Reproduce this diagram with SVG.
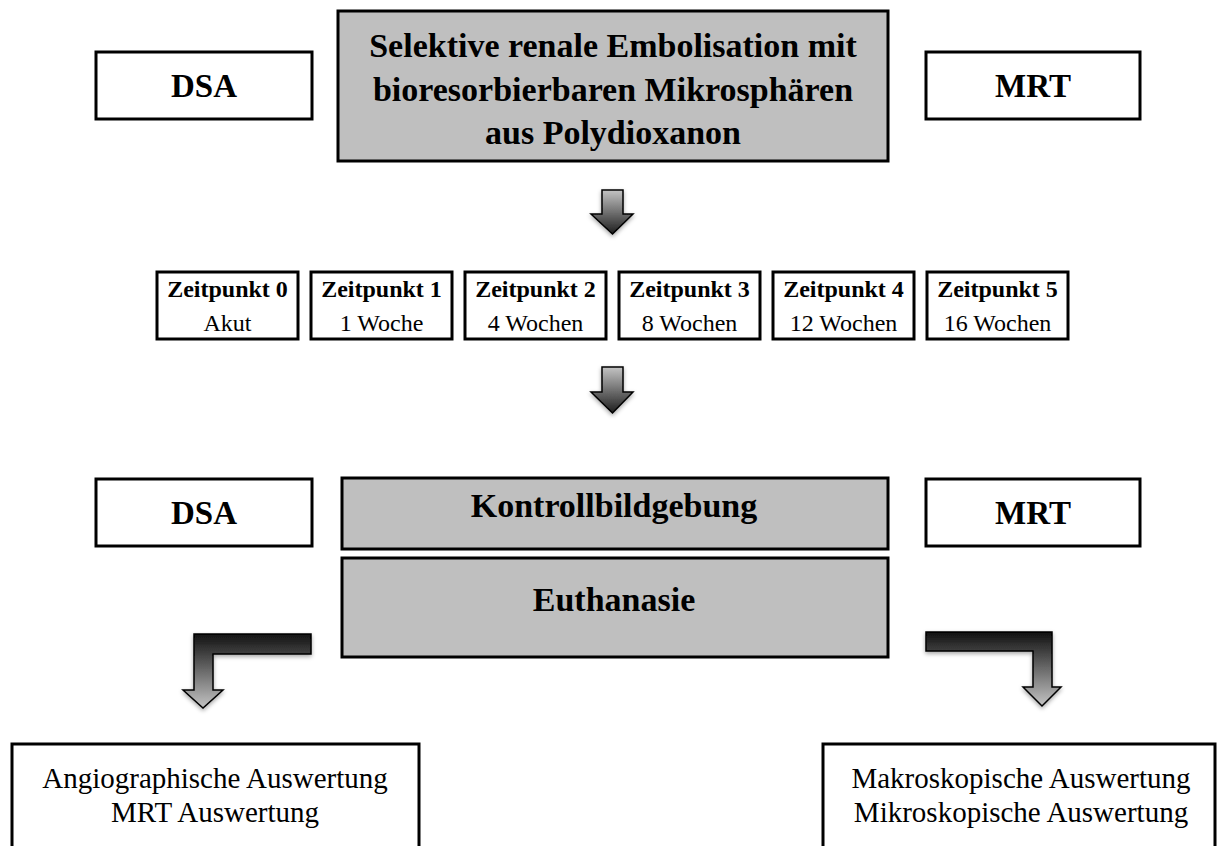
<svg xmlns="http://www.w3.org/2000/svg" width="1227" height="846" viewBox="0 0 1227 846">
<style>
.box{fill:#fff;stroke:#000;stroke-width:3}
.gbox{fill:#bfbfbf;stroke:#000;stroke-width:3}
.b{font-family:"Liberation Serif","Times New Roman",serif;font-weight:bold;fill:#000;text-anchor:middle}
.n{font-family:"Liberation Serif","Times New Roman",serif;fill:#000;text-anchor:middle}
.arr{stroke:#000;stroke-width:1.5;stroke-linejoin:miter}
</style>
<defs>
<linearGradient id="gDown" x1="0" y1="0" x2="0" y2="1">
<stop offset="0" stop-color="#c4c4c4"/><stop offset="1" stop-color="#1e1e1e"/>
</linearGradient>
<linearGradient id="gUp" x1="0" y1="0" x2="0" y2="1">
<stop offset="0" stop-color="#111"/><stop offset="1" stop-color="#c4c4c4"/>
</linearGradient>
<filter id="sh" x="-30%" y="-30%" width="160%" height="160%">
<feDropShadow dx="0" dy="2" stdDeviation="2" flood-color="#000" flood-opacity="0.35"/>
</filter>
</defs>
<rect width="1227" height="846" fill="#fff"/>

<g id="dsa-top"><rect class="box" x="96" y="52" width="216" height="67"/><text class="b" x="204" y="97" font-size="33">DSA</text></g>
<g id="main-top"><rect class="gbox" x="338" y="11" width="550" height="150"/>
<text class="b" font-size="34"><tspan x="613" y="57">Selektive renale Embolisation mit</tspan><tspan x="613" y="101">bioresorbierbaren Mikrosphären</tspan><tspan x="613" y="144">aus Polydioxanon</tspan></text></g>
<g id="mrt-top"><rect class="box" x="926" y="52" width="214" height="67"/><text class="b" x="1033" y="97" font-size="33">MRT</text></g>

<g id="zp0"><rect class="box" x="157" y="272" width="141" height="67"/><text class="b" x="227.5" y="297" font-size="24">Zeitpunkt 0</text><text class="n" x="227.5" y="331" font-size="24">Akut</text></g>
<g id="zp1"><rect class="box" x="311" y="272" width="141" height="67"/><text class="b" x="381.5" y="297" font-size="24">Zeitpunkt 1</text><text class="n" x="381.5" y="331" font-size="24">1 Woche</text></g>
<g id="zp2"><rect class="box" x="465" y="272" width="141" height="67"/><text class="b" x="535.5" y="297" font-size="24">Zeitpunkt 2</text><text class="n" x="535.5" y="331" font-size="24">4 Wochen</text></g>
<g id="zp3"><rect class="box" x="619" y="272" width="141" height="67"/><text class="b" x="689.5" y="297" font-size="24">Zeitpunkt 3</text><text class="n" x="689.5" y="331" font-size="24">8 Wochen</text></g>
<g id="zp4"><rect class="box" x="773" y="272" width="141" height="67"/><text class="b" x="843.5" y="297" font-size="24">Zeitpunkt 4</text><text class="n" x="843.5" y="331" font-size="24">12 Wochen</text></g>
<g id="zp5"><rect class="box" x="927" y="272" width="141" height="67"/><text class="b" x="997.5" y="297" font-size="24">Zeitpunkt 5</text><text class="n" x="997.5" y="331" font-size="24">16 Wochen</text></g>

<g id="dsa-bottom"><rect class="box" x="96" y="479" width="216" height="67"/><text class="b" x="204" y="524" font-size="33">DSA</text></g>
<g id="kontroll"><rect class="gbox" x="342" y="478" width="546" height="71"/><text class="b" x="614" y="517" font-size="34">Kontrollbildgebung</text></g>
<g id="mrt-bottom"><rect class="box" x="926" y="479" width="214" height="67"/><text class="b" x="1033" y="524" font-size="33">MRT</text></g>
<g id="euthanasie"><rect class="gbox" x="342" y="558" width="546" height="99"/><text class="b" x="614" y="611" font-size="34">Euthanasie</text></g>

<g id="auswertung-links"><rect class="box" x="12" y="744" width="407" height="120"/><text class="n" font-size="29"><tspan x="215" y="788">Angiographische Auswertung</tspan><tspan x="215" y="822">MRT Auswertung</tspan></text></g>
<g id="auswertung-rechts"><rect class="box" x="823" y="744" width="392" height="120"/><text class="n" font-size="29"><tspan x="1021" y="788">Makroskopische Auswertung</tspan><tspan x="1021" y="822">Mikroskopische Auswertung</tspan></text></g>

<g id="connectors">
<path class="arr" filter="url(#sh)" fill="url(#gDown)" d="M602,190 H623 V214 H633 L612.5,234 L591,214 H602 Z"/>
<path class="arr" filter="url(#sh)" fill="url(#gDown)" d="M602,367 H623 V392 H633 L612.5,413 L591,392 H602 Z"/>
<path class="arr" filter="url(#sh)" fill="url(#gUp)" d="M311,634 V654 H213 V690 H223 L203,708 L183,690 H194 V634 Z"/>
<path class="arr" filter="url(#sh)" fill="url(#gUp)" d="M926,632 V651 H1033 V687 H1023 L1042,706 L1061,687 H1052 V632 Z"/>
</g>
</svg>
